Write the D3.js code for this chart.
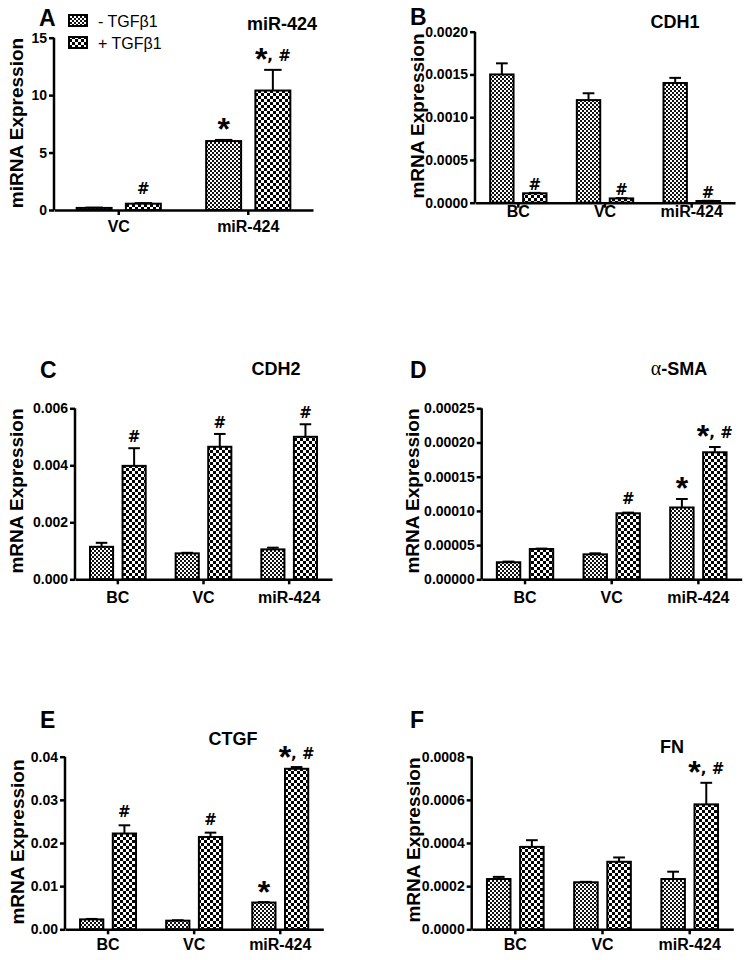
<!DOCTYPE html>
<html><head><meta charset="utf-8">
<script src="https://cdn.jsdelivr.net/npm/d3@7"></script>
<style>
html,body{margin:0;padding:0;background:#fff;}
svg{display:block;font-family:"Liberation Sans",Arial,sans-serif;}
</style></head>
<body>
<svg id="chart" width="751" height="960"></svg>
<script>
// ---------------- DATA ----------------
const series = ["- TGFβ1", "+ TGFβ1"];
const catsA = ["VC", "miR-424"];
const cats3 = ["BC", "VC", "miR-424"];

// Panel A: miR-424
const aMinus = [0.18, 6.0],        aMinusSem = [0.03, 0.1];
const aPlus  = [0.55, 10.4],       aPlusSem  = [0.05, 1.8];
const aMarks = [["", "#"], ["*", "*, #"]];
const aTicks = [0, 5, 10, 15];
const aTickLabels = ["0", "5", "10", "15"];

// Panel B: CDH1
const bMinus = [0.0015, 0.0012, 0.0014],     bMinusSem = [0.00013, 0.00008, 0.00006];
const bPlus  = [0.00011, 0.00005, 0.00002],  bPlusSem  = [0.000005, 0.000003, 0.000002];
const bMarks = [["", "#"], ["", "#"], ["", "#"]];
const bTicks = [0, 0.0005, 0.0010, 0.0015, 0.0020];
const bTickLabels = ["0.0000", "0.0005", "0.0010", "0.0015", "0.0020"];

// Panel C: CDH2
const cMinus = [0.00114, 0.00091, 0.00105],  cMinusSem = [0.00014, 0.00002, 0.00006];
const cPlus  = [0.00398, 0.00465, 0.00500],  cPlusSem  = [0.00062, 0.00045, 0.00044];
const cMarks = [["", "#"], ["", "#"], ["", "#"]];
const cTicks = [0, 0.002, 0.004, 0.006];
const cTickLabels = ["0.000", "0.002", "0.004", "0.006"];

// Panel D: alpha-SMA
const dMinus = [0.0000249, 0.0000365, 0.000105],  dMinusSem = [0.000001, 0.0000015, 0.0000124];
const dPlus  = [0.0000443, 0.0000965, 0.0001857], dPlusSem  = [0.0000006, 0.000001, 0.0000077];
const dMarks = [["", ""], ["", "#"], ["*", "*, #"]];
const dTicks = [0, 0.00005, 0.00010, 0.00015, 0.00020, 0.00025];
const dTickLabels = ["0.00000", "0.00005", "0.00010", "0.00015", "0.00020", "0.00025"];

// Panel E: CTGF
const eMinus = [0.0023, 0.0020, 0.0062],   eMinusSem = [0.0001, 0.0001, 0.0001];
const ePlus  = [0.0222, 0.0214, 0.0372],   ePlusSem  = [0.0019, 0.0010, 0.0004];
const eMarks = [["", "#"], ["", "#"], ["*", "*, #"]];
const eTicks = [0, 0.01, 0.02, 0.03, 0.04];
const eTickLabels = ["0.00", "0.01", "0.02", "0.03", "0.04"];

// Panel F: FN
const fMinus = [0.000233, 0.000218, 0.000233], fMinusSem = [0.00001, 0.000002, 0.000034];
const fPlus  = [0.000382, 0.000313, 0.000579], fPlusSem  = [0.000031, 0.00002, 0.0001];
const fMarks = [["", ""], ["", ""], ["", "*, #"]];
const fTicks = [0, 0.0002, 0.0004, 0.0006, 0.0008];
const fTickLabels = ["0.0000", "0.0002", "0.0004", "0.0006", "0.0008"];

// ---------------- LAYOUT ----------------
const panels = [
  {letter:"A", title:"miR-424", yLabel:"miRNA Expression", cats:catsA,
   minus:aMinus, minusSem:aMinusSem, plus:aPlus, plusSem:aPlusSem, marks:aMarks,
   ticks:aTicks, tickLabels:aTickLabels,
   x0:54, x1:313, yBot:210, yTop:37.7, letterX:39, letterY:26, titleX:282, titleY:30,
   yLabX:16, yLabY:123, xLabDy:23, markOff:9, legend:true},
  {letter:"B", title:"CDH1", yLabel:"mRNA Expression", cats:cats3,
   minus:bMinus, minusSem:bMinusSem, plus:bPlus, plusSem:bPlusSem, marks:bMarks,
   ticks:bTicks, tickLabels:bTickLabels,
   x0:475, x1:735, yBot:202.7, yTop:31.7, letterX:410, letterY:25, titleX:675, titleY:28,
   yLabX:417, yLabY:116, xLabDy:15, markOff:3},
  {letter:"C", title:"CDH2", yLabel:"mRNA Expression", cats:cats3,
   minus:cMinus, minusSem:cMinusSem, plus:cPlus, plusSem:cPlusSem, marks:cMarks,
   ticks:cTicks, tickLabels:cTickLabels,
   x0:75, x1:332, yBot:579.3, yTop:408.3, letterX:40, letterY:378, titleX:276, titleY:375,
   yLabX:16, yLabY:491, xLabDy:24, markOff:6},
  {letter:"D", title:"α-SMA", yLabel:"mRNA Expression", cats:cats3,
   minus:dMinus, minusSem:dMinusSem, plus:dPlus, plusSem:dPlusSem, marks:dMarks,
   ticks:dTicks, tickLabels:dTickLabels,
   x0:481.7, x1:741.7, yBot:579.3, yTop:408.3, letterX:410, letterY:378, titleX:679, titleY:375,
   yLabX:412, yLabY:491, xLabDy:24, markOff:9},
  {letter:"E", title:"CTGF", yLabel:"mRNA Expression", cats:cats3,
   minus:eMinus, minusSem:eMinusSem, plus:ePlus, plusSem:ePlusSem, marks:eMarks,
   ticks:eTicks, tickLabels:eTickLabels,
   x0:65, x1:323.3, yBot:929.3, yTop:756.7, letterX:40, letterY:728, titleX:233, titleY:745,
   yLabX:17, yLabY:842, xLabDy:21, markOff:8},
  {letter:"F", title:"FN", yLabel:"mRNA Expression", cats:cats3,
   minus:fMinus, minusSem:fMinusSem, plus:fPlus, plusSem:fPlusSem, marks:fMarks,
   ticks:fTicks, tickLabels:fTickLabels,
   x0:471.7, x1:733.3, yBot:929.3, yTop:756.7, letterX:410, letterY:728, titleX:672, titleY:753,
   yLabX:413, yLabY:840, xLabDy:21, markOff:9}
];

const svg = d3.select("#chart");
const defs = svg.append("defs");
// fine checker (- TGFb1)
const p1 = defs.append("pattern").attr("id","pat1").attr("patternUnits","userSpaceOnUse")
  .attr("width",4).attr("height",4);
p1.append("rect").attr("width",4).attr("height",4).attr("fill","#fff");
p1.append("rect").attr("x",0).attr("y",0).attr("width",2).attr("height",2).attr("fill","#111");
p1.append("rect").attr("x",2).attr("y",2).attr("width",2).attr("height",2).attr("fill","#111");
// coarse checker (+ TGFb1)
const p2 = defs.append("pattern").attr("id","pat2").attr("patternUnits","userSpaceOnUse")
  .attr("width",6).attr("height",6);
p2.append("rect").attr("width",6).attr("height",6).attr("fill","#fff");
p2.append("rect").attr("x",0).attr("y",0).attr("width",3).attr("height",3).attr("fill","#000");
p2.append("rect").attr("x",3).attr("y",3).attr("width",3).attr("height",3).attr("fill","#000");
const fills = ["url(#pat1)", "url(#pat2)"];
const markFont = "'DejaVu Sans','Liberation Sans',sans-serif";

panels.forEach(P => {
  const g = svg.append("g");
  const x = d3.scaleBand().domain(P.cats).range([P.x0, P.x1]).paddingInner(0.35).paddingOuter(0.175);
  const xs = d3.scaleBand().domain(series).range([0, x.bandwidth()]).paddingInner(0.29);
  const yMax = P.ticks[P.ticks.length-1];
  const y = d3.scaleLinear().domain([0, yMax]).range([P.yBot, P.yTop]);

  const rows = [];
  P.cats.forEach((c, i) => {
    rows.push({cat:c, s:series[0], v:P.minus[i], e:P.minusSem[i], mark:P.marks[i][0], k:0});
    rows.push({cat:c, s:series[1], v:P.plus[i],  e:P.plusSem[i],  mark:P.marks[i][1], k:1});
  });

  // error bars (upward only)
  rows.forEach(d => {
    const cx = x(d.cat) + xs(d.s) + xs.bandwidth()/2;
    const cw = xs.bandwidth()*0.5;
    g.append("line").attr("x1",cx).attr("x2",cx).attr("y1",y(d.v)).attr("y2",y(d.v+d.e))
      .attr("stroke","#000").attr("stroke-width",2);
    g.append("line").attr("x1",cx-cw/2).attr("x2",cx+cw/2).attr("y1",y(d.v+d.e)).attr("y2",y(d.v+d.e))
      .attr("stroke","#000").attr("stroke-width",2);
  });

  // bars
  g.selectAll("rect.bar").data(rows).join("rect").attr("class","bar")
    .attr("x", d => x(d.cat) + xs(d.s))
    .attr("width", xs.bandwidth())
    .attr("y", d => y(d.v))
    .attr("height", d => Math.max(0, y(0) - y(d.v)))
    .attr("fill", d => fills[d.k])
    .attr("stroke","#000").attr("stroke-width",2);

  // annotations
  rows.filter(d => d.mark).forEach(d => {
    const cx = x(d.cat) + xs(d.s) + xs.bandwidth()/2;
    const by = y(d.v + d.e) - P.markOff;
    const t = g.append("text").attr("x", cx).attr("y", by).attr("text-anchor","middle")
      .attr("font-weight","bold").attr("fill","#000");
    if (d.mark.startsWith("*")) {
      t.append("tspan").attr("font-family","'Liberation Sans',Arial,sans-serif")
        .attr("font-size",32).attr("dy",9).text("*");
      const rest = d.mark.slice(1);
      if (rest) t.append("tspan").attr("font-family",markFont).attr("font-size",15).attr("dy",-9).text(rest);
    } else {
      t.attr("font-family",markFont).attr("font-size",15).text(d.mark);
    }
  });

  // y axis
  const yAxis = d3.axisLeft(y).tickValues(P.ticks).tickSize(5).tickPadding(2)
    .tickFormat((v,i) => P.tickLabels[i]);
  const ya = g.append("g").attr("transform",`translate(${P.x0},0)`).call(yAxis);
  ya.select(".domain").attr("d", `M0,${P.yBot}V${P.yTop}`).attr("stroke-width",2.5);
  ya.selectAll(".tick line").attr("stroke-width",2.5);
  ya.selectAll(".tick text").attr("font-size",14).attr("font-weight","bold")
    .attr("font-family","'Liberation Sans',Arial,sans-serif").attr("fill","#000");

  // x axis
  const xAxis = d3.axisBottom(x).tickSize(5).tickSizeOuter(0).tickPadding(P.xLabDy-17);
  const xa = g.append("g").attr("transform",`translate(0,${P.yBot})`).call(xAxis);
  xa.select(".domain").attr("stroke-width",2.5);
  xa.selectAll(".tick line").attr("stroke-width",2.5);
  xa.selectAll(".tick text").attr("font-size",16).attr("font-weight","bold")
    .attr("font-family","'Liberation Sans',Arial,sans-serif").attr("fill","#000");

  // y label
  g.append("text").attr("transform",`translate(${P.yLabX},${P.yLabY}) rotate(-90)`)
    .attr("text-anchor","middle").attr("dominant-baseline","central")
    .attr("font-size",19).attr("font-weight","bold").text(P.yLabel);

  // panel letter
  g.append("text").attr("x",P.letterX).attr("y",P.letterY)
    .attr("font-size",23).attr("font-weight","bold").text(P.letter);

  // title
  const tt = g.append("text").attr("x",P.titleX).attr("y",P.titleY).attr("text-anchor","middle")
    .attr("font-size",18).attr("font-weight","bold");
  if (P.title.startsWith("α")) {
    tt.append("tspan").attr("font-family","'Liberation Serif',serif").attr("font-weight","normal")
      .attr("font-size",20).text("α");
    tt.append("tspan").text(P.title.slice(1));
  } else tt.text(P.title);

  // legend
  if (P.legend) {
    const lg = g.append("g");
    series.forEach((s, i) => {
      const ly = 15 + i*22;
      lg.append("rect").attr("x",69).attr("y",ly).attr("width",18).attr("height",11)
        .attr("fill",fills[i]).attr("stroke","#000").attr("stroke-width",2);
      lg.append("text").attr("x",98).attr("y",ly+12).attr("font-size",16).text(s);
    });
  }
});
</script>
</body></html>
